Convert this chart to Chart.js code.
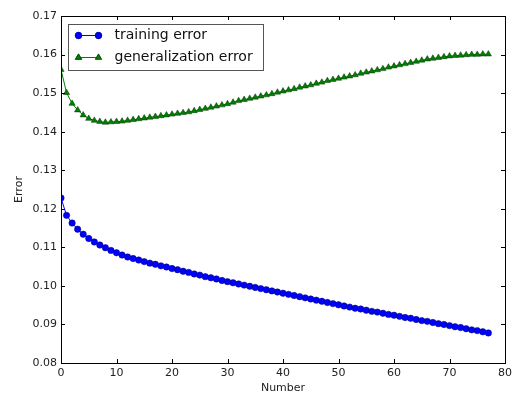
<!DOCTYPE html>
<html>
<head>
<meta charset="utf-8">
<script src="https://cdn.jsdelivr.net/npm/chart.js@4/dist/chart.umd.min.js"></script>
<style>
  body { margin: 0; background: #fff; }
  #wrap { width: 516px; height: 394px; }
</style>
</head>
<body>
<div id="wrap"><canvas id="errChart" width="516" height="394"></canvas></div>
<script>
// numero de iteracoes (eixo x)
const steps = [0, 1, 2, 3, 4, 5, 6, 7, 8, 9, 10, 11, 12, 13, 14, 15, 16, 17, 18, 19,
  20, 21, 22, 23, 24, 25, 26, 27, 28, 29, 30, 31, 32, 33, 34, 35, 36, 37, 38, 39,
  40, 41, 42, 43, 44, 45, 46, 47, 48, 49, 50, 51, 52, 53, 54, 55, 56, 57, 58, 59,
  60, 61, 62, 63, 64, 65, 66, 67, 68, 69, 70, 71, 72, 73, 74, 75, 76, 77];

const trainingError = [0.1228, 0.1183, 0.1163, 0.1147, 0.1134, 0.1123, 0.1114, 0.1106, 0.1099, 0.1092,
  0.1086, 0.1080, 0.1075, 0.1071, 0.1067, 0.1063, 0.1059, 0.1056, 0.1052, 0.1049,
  0.1045, 0.1042, 0.1038, 0.1035, 0.1031, 0.1028, 0.1024, 0.1021, 0.1018, 0.1014,
  0.1011, 0.1008, 0.1005, 0.1002, 0.0999, 0.0996, 0.0993, 0.0990, 0.0987, 0.0984,
  0.0981, 0.0978, 0.0975, 0.0972, 0.0969, 0.0966, 0.0963, 0.0960, 0.0957, 0.0954,
  0.0951, 0.0948, 0.0945, 0.0942, 0.0940, 0.0937, 0.0934, 0.0932, 0.0929, 0.0926,
  0.0924, 0.0921, 0.0918, 0.0916, 0.0913, 0.0910, 0.0908, 0.0905, 0.0902, 0.0900,
  0.0897, 0.0894, 0.0892, 0.0889, 0.0886, 0.0884, 0.0881, 0.0878];

const generalizationError = [0.1561, 0.1501, 0.1473, 0.1456, 0.1443, 0.1434, 0.1429, 0.1426, 0.1424, 0.1425,
  0.1426, 0.1427, 0.1429, 0.1431, 0.1433, 0.1435, 0.1437, 0.1439, 0.1441, 0.1443,
  0.1445, 0.1447, 0.1449, 0.1451, 0.1454, 0.1457, 0.1460, 0.1463, 0.1466, 0.1469,
  0.1472, 0.1476, 0.1480, 0.1483, 0.1486, 0.1489, 0.1492, 0.1495, 0.1498, 0.1502,
  0.1505, 0.1508, 0.1511, 0.1515, 0.1518, 0.1521, 0.1525, 0.1528, 0.1532, 0.1535,
  0.1538, 0.1541, 0.1544, 0.1547, 0.1551, 0.1554, 0.1557, 0.1560, 0.1563, 0.1567,
  0.1570, 0.1573, 0.1576, 0.1579, 0.1582, 0.1585, 0.1588, 0.1590, 0.1592, 0.1594,
  0.1596, 0.1597, 0.1598, 0.1599, 0.1600, 0.1600, 0.1601, 0.1601];

const xTicks = [0, 10, 20, 30, 40, 50, 60, 70, 80];
const yTicks = [0.08, 0.09, 0.10, 0.11, 0.12, 0.13, 0.14, 0.15, 0.16, 0.17];

const FONT = 'DejaVu Sans';

// moldura + ticks para dentro nos quatro lados (estilo matplotlib)
const frameTicks = {
  id: 'frameTicks',
  afterDatasetsDraw(chart) {
    const { ctx, chartArea: a, scales: { x, y } } = chart;
    ctx.save();
    ctx.strokeStyle = '#000';
    ctx.lineWidth = 1;
    ctx.beginPath();
    xTicks.forEach(v => {
      const px = Math.round(x.getPixelForValue(v)) + 0.5;
      ctx.moveTo(px, a.bottom); ctx.lineTo(px, a.bottom - 4);
      ctx.moveTo(px, a.top); ctx.lineTo(px, a.top + 4);
    });
    yTicks.forEach(v => {
      const py = Math.round(y.getPixelForValue(v)) + 0.5;
      ctx.moveTo(a.left, py); ctx.lineTo(a.left + 4, py);
      ctx.moveTo(a.right, py); ctx.lineTo(a.right - 4, py);
    });
    ctx.stroke();
    ctx.strokeRect(Math.round(a.left) + 0.5, Math.round(a.top) + 0.5,
      Math.round(a.right - a.left), Math.round(a.bottom - a.top));
    ctx.restore();
  }
};

// legenda desenhada a mao: linha com dois marcadores
const boxLegend = {
  id: 'boxLegend',
  afterDraw(chart) {
    const { ctx, chartArea: a } = chart;
    const bx = a.left + 7.5, by = a.top + 8.5, bw = 195, bh = 46;
    ctx.save();
    ctx.fillStyle = '#fff';
    ctx.fillRect(bx, by, bw, bh);
    ctx.strokeStyle = '#555';
    ctx.lineWidth = 1;
    ctx.strokeRect(bx, by, bw, bh);
    ctx.font = '14px "' + FONT + '"';
    ctx.textBaseline = 'middle';
    chart.data.datasets.forEach((ds, i) => {
      const ly = by + 11 + i * 22;
      const x1 = bx + 10, x2 = bx + 30;
      ctx.strokeStyle = ds.borderColor;
      ctx.lineWidth = 1;
      ctx.beginPath(); ctx.moveTo(x1, ly); ctx.lineTo(x2, ly); ctx.stroke();
      [x1, x2].forEach(px => {
        Chart.helpers.drawPoint(ctx, {
          pointStyle: ds.pointStyle, radius: ds.pointRadius, rotation: 0,
          borderWidth: ds.pointBorderWidth
        }, px, ly);
        ctx.fillStyle = ds.pointBackgroundColor;
        ctx.strokeStyle = ds.pointBorderColor;
        ctx.lineWidth = ds.pointBorderWidth;
        ctx.fill(); ctx.stroke();
      });
      ctx.fillStyle = '#111';
      ctx.fillText(ds.label, bx + 46, ly);
    });
    ctx.restore();
  }
};

function initChart() {
  const ctx = document.getElementById('errChart').getContext('2d');
  new Chart(ctx, {
    type: 'line',
    data: {
      datasets: [{
        label: 'training error',
        data: steps.map((s, i) => ({ x: s, y: trainingError[i] })),
        borderColor: '#0000ff',
        borderWidth: 1,
        pointStyle: 'circle',
        pointRadius: 3.2,
        pointBackgroundColor: '#0000ff',
        pointBorderColor: '#00006a',
        pointBorderWidth: 0.5,
        tension: 0
      }, {
        label: 'generalization error',
        data: steps.map((s, i) => ({ x: s, y: generalizationError[i] })),
        borderColor: '#008000',
        borderWidth: 1,
        pointStyle: 'triangle',
        pointRadius: 3.6,
        pointBackgroundColor: '#008000',
        pointBorderColor: '#003000',
        pointBorderWidth: 0.5,
        tension: 0
      }]
    },
    options: {
      responsive: false,
      animation: false,
      events: [],
      layout: { padding: { top: 16, right: 8, left: 0, bottom: 0 } },
      plugins: { legend: { display: false }, tooltip: { enabled: false } },
      scales: {
        x: {
          type: 'linear',
          min: 0, max: 80,
          afterBuildTicks: s => { s.ticks = xTicks.map(v => ({ value: v })); },
          afterFit: s => { s.height = 31; },
          grid: { display: false, drawTicks: false },
          border: { display: false },
          ticks: { color: '#222', padding: 4, maxRotation: 0, font: { family: FONT, size: 11 } },
          title: { display: true, text: 'Number', color: '#222', padding: { top: 0, bottom: -1 },
            font: { family: FONT, size: 11 } }
        },
        y: {
          min: 0.08, max: 0.17,
          afterBuildTicks: s => { s.ticks = yTicks.map(v => ({ value: v })); },
          afterFit: s => { s.width = 61; },
          grid: { display: false, drawTicks: false },
          border: { display: false },
          ticks: { color: '#222', padding: 4, font: { family: FONT, size: 11 },
            callback: v => v.toFixed(2) },
          title: { display: true, text: 'Error', color: '#222', padding: { top: 13, bottom: 0 },
            font: { family: FONT, size: 11 } }
        }
      }
    },
    plugins: [frameTicks, boxLegend]
  });
}

document.addEventListener('DOMContentLoaded', initChart);
</script>
</body>
</html>
